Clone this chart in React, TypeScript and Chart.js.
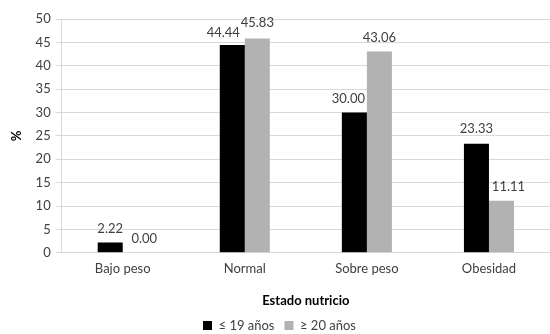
import React, { useEffect, useRef } from "react";
import { Chart, registerables } from "chart.js";

Chart.register(...registerables);

const categories = ["Bajo peso", "Normal", "Sobre peso", "Obesidad"];
const under19 = [2.22, 44.44, 30.0, 23.33];
const over20 = [0.0, 45.83, 43.06, 11.11];
const seriesNames = ["\u2264 19 años", "\u2265 20 años"];
const yTicks = [0, 5, 10, 15, 20, 25, 30, 35, 40, 45, 50];

// small nudges so neighbouring value labels don't collide
const labelShift = [
  [0, 9],
  [-9, 0],
  [-6, 0],
  [0, 7],
];
const labelLift = [
  [14, 14],
  [12, 16],
  [14, 14],
  [15, 14],
];

const FONT = "Lato, 'Open Sans', sans-serif";

const valueLabels = {
  id: "valueLabels",
  afterDatasetsDraw(chart: any) {
    const { ctx } = chart;
    ctx.save();
    ctx.font = `13px ${FONT}`;
    ctx.fillStyle = "#404040";
    ctx.textAlign = "center";
    ctx.textBaseline = "middle";
    chart.data.datasets.forEach((ds: any, di: number) => {
      const meta = chart.getDatasetMeta(di);
      meta.data.forEach((bar: any, i: number) => {
        const v = ds.data[i] as number;
        ctx.fillText(v.toFixed(2), bar.x + labelShift[i][di], bar.y - labelLift[i][di]);
      });
    });
    ctx.restore();
  },
};

export default function App() {
  const ref = useRef<HTMLCanvasElement>(null);
  useEffect(() => {
    if (!ref.current) return;
    const chart = new Chart(ref.current, {
      type: "bar",
      data: {
        labels: categories,
        datasets: [
          { label: seriesNames[0], data: under19, backgroundColor: "#000000" },
          { label: seriesNames[1], data: over20, backgroundColor: "#b2b2b2" },
        ],
      },
      plugins: [valueLabels],
      options: {
        responsive: false,
        animation: false,
        layout: { padding: { top: 19, right: 0, left: 9, bottom: -8 } },
        datasets: {
          bar: { categoryPercentage: 0.41, barPercentage: 1 },
        },
        plugins: {
          legend: {
            position: "bottom",
            labels: {
              boxWidth: 9,
              boxHeight: 9,
              padding: 10,
              color: "#404040",
              font: { family: FONT, size: 13 },
            },
          },
          tooltip: { enabled: false },
        },
        scales: {
          x: {
            grid: { display: false, drawTicks: false, tickLength: 0 },
            border: { color: "#d9d9d9" },
            ticks: {
              color: "#404040",
              font: { family: FONT, size: 13 },
              padding: 8,
            },
            title: {
              display: true,
              text: "Estado nutricio",
              color: "#000000",
              font: { family: FONT, size: 13, weight: "bold" },
              padding: { top: 9, bottom: 0 },
            },
          },
          y: {
            min: 0,
            max: 50,
            afterBuildTicks: (axis: any) => {
              axis.ticks = yTicks.map((v) => ({ value: v }));
            },
            grid: { color: "#d9d9d9", tickLength: 6 },
            border: { color: "#d9d9d9" },
            ticks: {
              color: "#404040",
              font: { family: FONT, size: 13 },
              padding: 5,
            },
            title: {
              display: true,
              text: "%",
              color: "#000000",
              font: { family: FONT, size: 13, weight: "bold" },
              padding: { top: 0, bottom: 6 },
            },
          },
        },
      },
    });
    return () => chart.destroy();
  }, []);
  return (
    <div style={{ position: "absolute", left: 0, top: 0, width: 550, height: 334 }}>
      <canvas ref={ref} width={550} height={334} />
    </div>
  );
}
